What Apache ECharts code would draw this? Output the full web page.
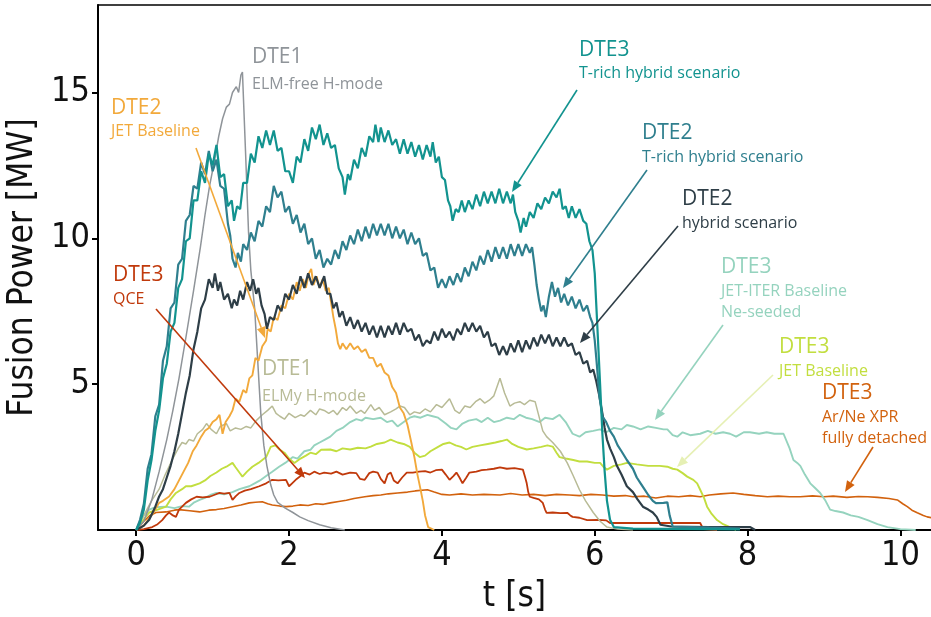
<!DOCTYPE html>
<html><head><meta charset="utf-8">
<script src="https://cdn.jsdelivr.net/npm/echarts@6/dist/echarts.min.js"></script>
<style>html,body{margin:0;padding:0;background:#fff}#c{width:931px;height:617px}</style>
</head><body><div id="c"></div>
<script>
// ---- data: [t (s), fusion power (MW)] ----
const xTicks = [0, 2, 4, 6, 8, 10];
const yTicks = [5, 10, 15];

const dte1ElmFree = [[0,0],[0.1,0.3],[0.2,1.0],[0.3,2.0],[0.4,3.1],[0.48,4.1],[0.56,5.2],[0.65,6.6],[0.75,8.2],[0.84,9.7],[0.9,10.8],[0.96,11.8],[1.02,12.6],[1.08,13.5],[1.13,14.1],[1.18,14.5],[1.22,14.6],[1.26,15.0],[1.31,15.2],[1.34,15.0],[1.37,15.6],[1.39,15.7],[1.43,13.0],[1.47,10.2],[1.5,8.9],[1.55,7.6],[1.59,5.8],[1.63,4.0],[1.67,2.9],[1.71,2.2],[1.76,1.55],[1.8,1.2],[1.85,0.95],[1.95,0.75],[2.05,0.6],[2.14,0.45],[2.25,0.32],[2.4,0.18],[2.55,0.08],[2.73,0]];

const dte3TrichHybrid = [[0,0],[0.05,0.25],[0.1,0.7],[0.15,1.7],[0.2,2.4],[0.25,3.4],[0.3,4.1],[0.35,5.2],[0.4,5.7],[0.45,6.8],[0.5,7.1],[0.55,8.3],[0.6,8.6],[0.65,9.9],[0.7,10.0],[0.75,11.3],[0.8,11.3],[0.85,12.3],[0.9,11.9],[0.95,12.9],[1.0,12.5],[1.05,13.2],[1.1,12.1],[1.15,12.2],[1.2,11.1],[1.25,11.3],[1.28,10.6],[1.32,11.1],[1.36,11.0],[1.4,11.9],[1.45,11.9],[1.5,12.9],[1.55,12.6],[1.6,13.5],[1.65,13.1],[1.7,13.7],[1.75,13.2],[1.8,13.7],[1.85,13.0],[1.9,13.1],[1.95,12.3],[2.0,12.3],[2.05,11.9],[2.1,12.8],[2.15,12.6],[2.2,13.4],[2.25,13.0],[2.3,13.8],[2.35,13.4],[2.4,13.9],[2.45,13.2],[2.5,13.6],[2.55,13.1],[2.6,13.2],[2.65,12.4],[2.7,12.1],[2.73,11.5],[2.77,12.2],[2.8,12.0],[2.85,12.7],[2.9,12.4],[2.95,13.1],[3.0,12.8],[3.05,13.5],[3.1,13.3],[3.13,13.9],[3.17,13.3],[3.2,13.8],[3.25,13.3],[3.3,13.7],[3.35,13.2],[3.4,13.4],[3.45,12.9],[3.5,13.4],[3.55,12.9],[3.6,13.3],[3.65,12.8],[3.7,13.2],[3.75,12.7],[3.8,13.2],[3.85,12.8],[3.88,13.3],[3.92,12.6],[3.96,12.8],[4.0,12.1],[4.04,12.0],[4.08,11.3],[4.11,11.1],[4.14,10.6],[4.18,11.0],[4.22,10.9],[4.26,11.3],[4.3,10.9],[4.35,11.3],[4.4,11.0],[4.45,11.5],[4.5,11.1],[4.55,11.6],[4.6,11.2],[4.65,11.6],[4.7,11.2],[4.75,11.7],[4.8,11.2],[4.85,11.6],[4.9,11.2],[4.93,11.5],[4.96,10.9],[5.0,10.6],[5.03,10.2],[5.07,10.7],[5.1,10.4],[5.15,10.9],[5.2,10.7],[5.25,11.2],[5.3,11.0],[5.35,11.4],[5.4,11.2],[5.45,11.6],[5.5,11.4],[5.54,11.7],[5.58,11.0],[5.62,11.1],[5.66,10.7],[5.7,11.1],[5.75,10.7],[5.8,11.0],[5.85,10.6],[5.89,10.5],[5.93,9.9],[5.97,9.6],[6.0,8.8],[6.03,7.2],[6.07,5.0],[6.1,3.3],[6.13,2.0],[6.16,1.0],[6.2,0.35],[6.25,0.1],[6.5,0.05],[7.0,0.04],[7.9,0.02]];

const dte2TrichHybrid = [[0,0],[0.05,0.35],[0.1,0.9],[0.15,2.1],[0.2,2.6],[0.25,3.9],[0.3,4.3],[0.35,5.8],[0.4,6.3],[0.45,7.6],[0.5,7.8],[0.55,9.1],[0.6,9.3],[0.65,10.6],[0.7,10.8],[0.75,11.8],[0.8,11.7],[0.85,12.6],[0.9,12.2],[0.95,13.0],[1.0,12.3],[1.05,12.7],[1.1,11.8],[1.15,11.7],[1.2,10.5],[1.23,10.1],[1.26,9.3],[1.3,9.0],[1.33,9.5],[1.37,9.2],[1.4,9.8],[1.45,9.6],[1.5,10.2],[1.55,9.9],[1.6,10.6],[1.65,10.4],[1.7,11.1],[1.75,10.9],[1.8,11.8],[1.85,11.4],[1.9,11.6],[1.95,10.9],[2.0,11.1],[2.05,10.5],[2.1,10.8],[2.15,10.2],[2.2,10.5],[2.25,9.8],[2.3,10.0],[2.35,9.3],[2.4,9.6],[2.45,9.0],[2.5,9.3],[2.55,9.1],[2.6,9.6],[2.65,9.3],[2.7,9.9],[2.75,9.6],[2.8,10.1],[2.85,9.8],[2.9,10.3],[2.95,9.9],[3.0,10.4],[3.05,10.0],[3.1,10.5],[3.15,10.1],[3.2,10.5],[3.25,10.1],[3.3,10.5],[3.35,10.0],[3.4,10.4],[3.45,10.0],[3.5,10.3],[3.55,9.8],[3.6,10.2],[3.65,9.8],[3.7,10.0],[3.75,9.4],[3.8,9.5],[3.85,8.9],[3.9,9.0],[3.95,8.3],[4.0,8.6],[4.05,8.3],[4.1,8.7],[4.15,8.4],[4.2,8.8],[4.25,8.5],[4.3,9.0],[4.35,8.7],[4.4,9.2],[4.45,8.9],[4.5,9.4],[4.55,9.1],[4.6,9.6],[4.65,9.2],[4.7,9.7],[4.75,9.3],[4.8,9.7],[4.85,9.3],[4.9,9.8],[4.95,9.4],[5.0,9.8],[5.05,9.4],[5.1,9.8],[5.15,9.5],[5.18,9.7],[5.21,9.1],[5.24,8.4],[5.27,7.9],[5.3,7.5],[5.33,7.7],[5.36,7.3],[5.4,8.0],[5.44,8.5],[5.48,8.0],[5.52,8.3],[5.56,7.8],[5.6,8.1],[5.65,7.7],[5.7,8.0],[5.75,7.6],[5.8,7.9],[5.85,7.5],[5.9,7.7],[5.94,7.3],[5.97,7.1],[6.0,6.5],[6.03,5.6],[6.06,4.6],[6.1,3.9],[6.15,3.7],[6.2,3.4],[6.25,3.2],[6.3,2.9],[6.35,2.7],[6.42,2.4],[6.5,2.1],[6.55,1.8],[6.6,1.6],[6.65,1.4],[6.7,1.2],[6.76,1.0],[6.8,0.92],[6.9,0.93],[6.95,0.95],[6.98,0.5],[7.02,0.12],[7.5,0.08],[7.9,0.05]];

const dte2Hybrid = [[0,0],[0.1,0.15],[0.17,0.35],[0.25,0.8],[0.3,1.15],[0.35,1.4],[0.4,1.8],[0.45,2.2],[0.5,2.7],[0.55,3.3],[0.6,4.0],[0.65,4.7],[0.7,5.3],[0.75,6.2],[0.8,6.8],[0.85,7.6],[0.9,7.9],[0.95,8.6],[1.0,8.3],[1.03,8.8],[1.07,8.2],[1.1,8.5],[1.15,7.9],[1.2,8.1],[1.25,7.6],[1.28,7.9],[1.32,7.7],[1.36,8.2],[1.4,7.9],[1.45,8.5],[1.49,8.2],[1.53,8.6],[1.57,8.1],[1.6,8.3],[1.64,7.7],[1.68,7.4],[1.71,6.9],[1.75,7.3],[1.8,7.2],[1.85,7.7],[1.9,7.5],[1.95,8.1],[2.0,7.9],[2.05,8.4],[2.1,8.1],[2.15,8.7],[2.2,8.3],[2.25,8.8],[2.3,8.4],[2.35,8.7],[2.4,8.3],[2.46,8.7],[2.5,8.1],[2.54,8.1],[2.58,7.6],[2.62,7.8],[2.66,7.3],[2.7,7.5],[2.75,7.0],[2.8,7.3],[2.85,6.9],[2.9,7.2],[2.95,6.8],[3.0,7.1],[3.05,6.7],[3.1,7.0],[3.15,6.6],[3.2,7.0],[3.25,6.6],[3.3,7.0],[3.35,6.7],[3.4,7.1],[3.45,6.7],[3.5,7.1],[3.55,6.8],[3.6,6.9],[3.65,6.5],[3.7,6.7],[3.75,6.3],[3.8,6.5],[3.85,6.4],[3.9,6.8],[3.95,6.5],[4.0,6.9],[4.05,6.6],[4.1,6.8],[4.15,6.5],[4.2,6.9],[4.25,6.7],[4.3,7.1],[4.35,6.8],[4.4,7.1],[4.45,6.8],[4.5,7.0],[4.55,6.6],[4.6,6.8],[4.65,6.3],[4.7,6.4],[4.75,6.0],[4.8,6.3],[4.85,6.0],[4.9,6.4],[4.95,6.1],[5.0,6.5],[5.05,6.1],[5.1,6.5],[5.15,6.2],[5.2,6.6],[5.25,6.3],[5.3,6.7],[5.35,6.4],[5.4,6.7],[5.45,6.3],[5.5,6.6],[5.55,6.3],[5.6,6.6],[5.65,6.3],[5.7,6.4],[5.75,6.0],[5.8,6.1],[5.85,5.7],[5.9,5.8],[5.94,5.4],[5.98,5.5],[6.02,5.1],[6.06,4.6],[6.1,4.0],[6.13,3.5],[6.16,3.1],[6.2,2.8],[6.25,2.5],[6.29,2.2],[6.35,1.9],[6.42,1.5],[6.5,1.3],[6.56,1.05],[6.63,0.8],[6.7,0.7],[6.76,0.6],[6.81,0.45],[6.86,0.18],[7.0,0.12],[7.5,0.1],[8.03,0.1],[8.1,0]];

const dte2JetBaseline = [[0,0],[0.1,0.15],[0.2,0.5],[0.3,0.93],[0.35,1.0],[0.43,1.15],[0.5,1.4],[0.56,1.7],[0.62,2.0],[0.68,2.3],[0.74,2.7],[0.79,2.9],[0.85,3.2],[0.9,3.4],[0.95,3.5],[1.0,3.7],[1.05,3.8],[1.09,3.95],[1.13,3.3],[1.17,3.7],[1.22,3.9],[1.26,4.1],[1.3,4.5],[1.35,4.4],[1.4,4.8],[1.44,4.7],[1.48,5.2],[1.52,5.3],[1.56,5.9],[1.6,5.8],[1.65,6.3],[1.7,6.5],[1.72,6.9],[1.76,6.8],[1.8,7.3],[1.85,7.2],[1.9,7.7],[1.95,7.6],[2.0,8.1],[2.05,7.9],[2.1,8.5],[2.14,8.2],[2.18,8.6],[2.22,8.3],[2.26,8.8],[2.29,8.95],[2.32,8.4],[2.36,8.7],[2.4,8.3],[2.44,8.6],[2.48,8.2],[2.52,8.3],[2.55,7.8],[2.58,7.3],[2.61,6.9],[2.64,6.4],[2.67,6.2],[2.7,6.4],[2.75,6.2],[2.8,6.4],[2.85,6.2],[2.9,6.3],[2.95,6.1],[3.0,6.2],[3.05,5.9],[3.1,5.9],[3.15,5.6],[3.2,5.7],[3.25,5.4],[3.3,5.3],[3.35,4.9],[3.4,4.7],[3.45,4.2],[3.5,4.0],[3.55,3.6],[3.6,3.0],[3.64,2.5],[3.68,1.9],[3.72,1.4],[3.75,1.0],[3.78,0.5],[3.82,0.1],[3.9,0]];

const dte1ElmyHmode = [[0,0],[0.1,0.5],[0.2,1.0],[0.3,1.4],[0.38,1.9],[0.47,2.4],[0.55,2.8],[0.6,3.0],[0.65,2.95],[0.69,3.1],[0.75,3.05],[0.8,3.3],[0.87,3.45],[0.92,3.65],[0.98,3.45],[1.05,3.3],[1.1,3.55],[1.18,3.65],[1.23,3.4],[1.3,3.5],[1.37,3.45],[1.44,3.55],[1.5,3.5],[1.57,3.75],[1.65,3.95],[1.72,4.1],[1.78,4.25],[1.83,4.0],[1.88,3.9],[1.94,3.8],[2.0,4.0],[2.08,3.85],[2.15,3.95],[2.2,3.9],[2.28,4.1],[2.35,3.95],[2.4,4.15],[2.46,4.1],[2.52,4.0],[2.58,4.1],[2.63,3.95],[2.7,4.2],[2.75,4.1],[2.8,4.25],[2.88,4.0],[2.94,4.1],[2.99,4.0],[3.07,4.3],[3.12,4.1],[3.18,4.2],[3.25,3.95],[3.33,4.05],[3.4,4.15],[3.45,4.25],[3.51,4.2],[3.58,3.95],[3.64,4.05],[3.71,4.0],[3.78,4.15],[3.85,4.05],[3.93,4.3],[4.0,4.2],[4.1,4.5],[4.17,4.1],[4.23,4.0],[4.3,4.25],[4.37,4.2],[4.44,4.4],[4.5,4.5],[4.56,4.35],[4.62,4.45],[4.68,4.6],[4.76,5.2],[4.82,4.7],[4.89,4.25],[4.95,4.35],[5.02,4.4],[5.08,4.3],[5.15,4.45],[5.22,4.4],[5.26,4.0],[5.32,3.4],[5.37,3.2],[5.45,3.0],[5.55,2.7],[5.64,2.3],[5.72,1.85],[5.8,1.38],[5.88,1.0],[5.98,0.6],[6.07,0.3],[6.16,0.1],[6.3,0.03],[6.5,0]];

const dte3JetIterNe = [[0,0],[0.05,0.3],[0.1,0.5],[0.17,0.7],[0.25,0.78],[0.39,0.8],[0.5,0.75],[0.6,0.82],[0.69,0.8],[0.76,0.95],[0.83,1.03],[0.9,1.1],[0.97,1.2],[1.05,1.27],[1.15,1.22],[1.26,1.3],[1.35,1.4],[1.48,1.5],[1.55,1.6],[1.62,1.7],[1.7,1.85],[1.78,2.0],[1.87,2.17],[1.95,2.3],[2.05,2.5],[2.11,2.45],[2.2,2.7],[2.28,2.75],[2.33,2.9],[2.4,3.0],[2.47,3.1],[2.54,3.2],[2.62,3.4],[2.7,3.5],[2.8,3.7],[2.88,3.8],[2.95,3.75],[3.0,3.85],[3.1,3.8],[3.2,3.85],[3.28,3.7],[3.35,3.75],[3.42,3.55],[3.5,3.7],[3.58,3.85],[3.64,3.9],[3.72,3.85],[3.81,3.95],[3.88,3.9],[3.95,3.85],[4.05,3.65],[4.12,3.5],[4.19,3.45],[4.27,3.65],[4.35,3.75],[4.45,3.8],[4.52,3.7],[4.6,3.85],[4.68,3.7],[4.76,3.75],[4.85,3.85],[4.94,3.8],[5.02,3.95],[5.1,3.85],[5.18,3.8],[5.28,3.7],[5.35,3.85],[5.45,3.8],[5.54,3.95],[5.62,3.7],[5.71,3.3],[5.8,3.2],[5.88,3.35],[5.98,3.4],[6.07,3.45],[6.15,3.35],[6.25,3.5],[6.35,3.45],[6.42,3.6],[6.5,3.55],[6.6,3.45],[6.7,3.55],[6.8,3.5],[6.9,3.45],[6.95,3.45],[7.02,3.25],[7.08,3.2],[7.15,3.35],[7.25,3.25],[7.38,3.3],[7.48,3.4],[7.58,3.3],[7.68,3.35],[7.77,3.3],[7.85,3.2],[7.95,3.35],[8.03,3.35],[8.15,3.3],[8.25,3.35],[8.35,3.3],[8.47,3.3],[8.55,2.8],[8.6,2.4],[8.65,2.3],[8.69,2.2],[8.75,1.9],[8.82,1.6],[8.88,1.45],[8.95,1.27],[9.02,1.0],[9.08,0.7],[9.15,0.65],[9.25,0.6],[9.35,0.5],[9.45,0.45],[9.57,0.34],[9.7,0.2],[9.83,0.1],[10.0,0.03],[10.2,0]];

const dte3JetBaseline = [[0,0],[0.08,0.3],[0.17,0.6],[0.28,0.7],[0.39,0.8],[0.45,1.05],[0.52,1.27],[0.6,1.4],[0.65,1.5],[0.72,1.5],[0.83,1.6],[0.9,1.7],[0.97,1.85],[1.05,1.97],[1.12,2.1],[1.18,2.17],[1.26,2.3],[1.3,2.15],[1.35,1.97],[1.39,1.83],[1.45,2.0],[1.52,2.17],[1.6,2.3],[1.7,2.5],[1.76,2.85],[1.82,2.9],[1.88,2.75],[1.94,2.65],[2.0,2.45],[2.07,2.3],[2.15,2.45],[2.22,2.55],[2.28,2.65],[2.35,2.6],[2.42,2.75],[2.54,2.76],[2.62,2.7],[2.7,2.8],[2.8,2.76],[2.9,2.82],[3.0,2.8],[3.07,2.86],[3.15,2.95],[3.25,3.0],[3.33,3.1],[3.42,3.0],[3.5,2.95],[3.58,2.85],[3.64,2.65],[3.71,2.5],[3.78,2.55],[3.85,2.7],[3.95,2.85],[4.02,2.95],[4.1,3.0],[4.18,2.9],[4.25,2.85],[4.32,2.76],[4.4,2.85],[4.5,2.9],[4.6,2.95],[4.7,3.0],[4.78,3.05],[4.85,3.1],[4.92,2.95],[5.0,2.85],[5.11,2.76],[5.2,2.8],[5.3,2.85],[5.38,2.9],[5.45,2.86],[5.5,2.65],[5.54,2.5],[5.62,2.45],[5.72,2.4],[5.8,2.35],[5.9,2.35],[6.0,2.3],[6.07,2.3],[6.12,2.15],[6.16,2.07],[6.25,2.2],[6.35,2.25],[6.42,2.3],[6.55,2.25],[6.7,2.2],[6.85,2.2],[6.95,2.17],[7.02,2.1],[7.08,2.07],[7.15,1.95],[7.21,1.83],[7.29,1.72],[7.34,1.6],[7.38,1.38],[7.43,1.1],[7.47,0.8],[7.53,0.55],[7.6,0.34],[7.68,0.2],[7.77,0.1],[7.85,0]];

const dte3Qce = [[0,0],[0.1,0.03],[0.21,0.1],[0.28,0.2],[0.34,0.34],[0.39,0.5],[0.43,0.6],[0.48,0.5],[0.52,0.45],[0.56,0.7],[0.6,0.8],[0.65,0.93],[0.72,1.05],[0.79,1.14],[0.87,1.12],[0.96,1.14],[1.02,1.2],[1.09,1.27],[1.15,1.25],[1.22,1.27],[1.26,1.03],[1.3,1.15],[1.35,1.27],[1.42,1.35],[1.5,1.4],[1.61,1.5],[1.7,1.6],[1.78,1.72],[1.86,1.7],[1.96,1.72],[2.0,1.5],[2.04,1.6],[2.1,1.75],[2.15,1.85],[2.2,1.97],[2.27,1.9],[2.33,2.0],[2.4,1.92],[2.46,1.97],[2.55,1.93],[2.62,2.0],[2.7,1.9],[2.8,1.97],[2.88,1.95],[2.93,1.75],[2.99,1.72],[3.05,1.95],[3.1,2.0],[3.16,1.97],[3.2,1.75],[3.25,1.6],[3.29,1.9],[3.33,1.97],[3.37,1.7],[3.42,1.6],[3.48,1.8],[3.54,1.97],[3.62,1.97],[3.7,2.0],[3.78,2.02],[3.85,1.97],[3.92,2.05],[4.0,2.07],[4.05,1.9],[4.1,1.72],[4.15,1.85],[4.19,1.97],[4.23,1.8],[4.27,1.6],[4.32,1.8],[4.36,1.97],[4.45,2.0],[4.52,2.05],[4.59,2.07],[4.68,2.1],[4.76,2.15],[4.85,2.1],[4.95,2.12],[5.06,2.07],[5.09,1.8],[5.11,1.6],[5.13,1.3],[5.15,1.14],[5.2,1.1],[5.27,1.05],[5.32,0.93],[5.35,0.7],[5.37,0.59],[5.45,0.6],[5.55,0.58],[5.64,0.59],[5.68,0.5],[5.71,0.45],[5.8,0.42],[5.9,0.34],[6.05,0.35],[6.15,0.33],[6.2,0.24],[6.5,0.24],[7.0,0.24],[7.38,0.24],[7.42,0.03],[7.6,0]];

const dte3ArNeXpr = [[0,0],[0.1,0.3],[0.18,0.5],[0.26,0.6],[0.39,0.62],[0.5,0.68],[0.56,0.7],[0.7,0.66],[0.83,0.62],[0.95,0.68],[1.05,0.7],[1.15,0.74],[1.26,0.8],[1.37,0.86],[1.48,0.93],[1.56,0.95],[1.65,0.97],[1.72,0.9],[1.78,0.86],[1.88,0.82],[1.96,0.8],[2.05,0.82],[2.14,0.86],[2.25,0.84],[2.35,0.9],[2.45,0.88],[2.54,0.93],[2.65,0.98],[2.75,1.02],[2.85,1.08],[2.99,1.14],[3.1,1.18],[3.2,1.2],[3.3,1.24],[3.42,1.27],[3.55,1.3],[3.65,1.34],[3.81,1.38],[3.9,1.3],[4.0,1.22],[4.1,1.2],[4.25,1.24],[4.4,1.2],[4.55,1.22],[4.76,1.2],[4.9,1.25],[5.05,1.2],[5.2,1.22],[5.35,1.18],[5.5,1.22],[5.67,1.2],[5.8,1.18],[5.95,1.22],[6.1,1.2],[6.25,1.16],[6.4,1.18],[6.5,1.14],[6.65,1.16],[6.8,1.1],[6.95,1.16],[7.1,1.14],[7.25,1.18],[7.38,1.14],[7.5,1.2],[7.65,1.24],[7.81,1.27],[7.95,1.22],[8.1,1.18],[8.26,1.14],[8.4,1.16],[8.55,1.14],[8.69,1.14],[8.85,1.17],[9.0,1.14],[9.12,1.16],[9.3,1.12],[9.45,1.15],[9.57,1.14],[9.7,1.12],[9.85,1.08],[9.96,1.03],[10.03,0.9],[10.09,0.8],[10.15,0.68],[10.22,0.59],[10.3,0.5],[10.35,0.45],[10.45,0.4]];

// ---- styling ----
const C = {
  gray:'#8f9499', orange:'#f2a93b', qce:'#c0390b', khaki:'#b8bb96',
  teal:'#12938f', steel:'#2f7f8e', slate:'#2e3e47', mint:'#95d3be',
  lime:'#c2de3f', limeArrow:'#e6f0b4', arne:'#d2620e'
};

const seriesDefs = [
  {d:dte3ArNeXpr, c:C.arne, w:1.6},
  {d:dte3JetIterNe, c:C.mint, w:1.9},
  {d:dte3JetBaseline, c:C.lime, w:1.9},
  {d:dte3Qce, c:C.qce, w:1.8},
  {d:dte1ElmyHmode, c:C.khaki, w:1.5},
  {d:dte1ElmFree, c:C.gray, w:1.5},
  {d:dte2JetBaseline, c:C.orange, w:1.9},
  {d:dte2Hybrid, c:C.slate, w:2.2},
  {d:dte2TrichHybrid, c:C.steel, w:2.2},
  {d:dte3TrichHybrid, c:C.teal, w:2.2}
];

const XMIN = -0.5, XMAX = 10.4, YMIN = 0, YMAX = 18;
const tickFont = '"DejaVu Sans Condensed", "DejaVu Sans"';

const chart = echarts.init(document.getElementById('c'), null, {renderer:'canvas'});
chart.setOption({
  animation:false,
  backgroundColor:'#fff',
  grid:{left:98, right:0, top:5, bottom:87, containLabel:false, outerBoundsMode:'none'},
  xAxis:[{
    type:'value', min:XMIN, max:XMAX, position:'bottom',
    splitLine:{show:false},
    axisLine:{show:true, onZero:false, lineStyle:{color:'#000', width:2}},
    axisTick:{show:true, customValues:xTicks, length:6, inside:false, lineStyle:{color:'#000', width:2}},
    axisLabel:{customValues:xTicks, fontSize:34, color:'#111', fontFamily:tickFont, margin:9},
    name:'t [s]', nameLocation:'middle', nameGap:49,
    nameTextStyle:{fontSize:35, color:'#111', fontFamily:tickFont}
  },{
    type:'value', min:XMIN, max:XMAX, position:'top',
    splitLine:{show:false},
    axisLine:{show:true, onZero:false, lineStyle:{color:'#000', width:1.5}},
    axisTick:{show:false}, axisLabel:{show:false}
  }],
  yAxis:{
    type:'value', min:YMIN, max:YMAX,
    splitLine:{show:false},
    axisLine:{show:true, onZero:false, lineStyle:{color:'#000', width:2}},
    axisTick:{show:true, customValues:yTicks, length:6, lineStyle:{color:'#000', width:2}},
    axisLabel:{customValues:yTicks, fontSize:34, color:'#111', fontFamily:tickFont, margin:8},
    name:'Fusion Power [MW]', nameLocation:'middle', nameGap:54,
    nameTextStyle:{fontSize:35, color:'#111', fontFamily:tickFont}
  },
  series: seriesDefs.map(s => ({
    type:'line', data:s.d, xAxisIndex:0, showSymbol:false, symbol:'none',
    lineStyle:{color:s.c, width:s.w}, itemStyle:{color:s.c},
    clip:true, silent:true
  }))
});

// ---- annotations (pixel layout) ----
const annFont = 'Open Sans';
const T = 21, S = 16;
const labels = [
  {c:C.gray,   x:252, lines:[['DTE1',57,T],['ELM-free H-mode',84,S]]},
  {c:C.orange, x:111, lines:[['DTE2',108,T],['JET Baseline',131,S]]},
  {c:C.qce,    x:113, lines:[['DTE3',275,T],['QCE',299,S]]},
  {c:C.khaki,  x:262, lines:[['DTE1',369,T],['ELMy H-mode',396,S]]},
  {c:C.teal,   x:579, lines:[['DTE3',50,T],['T-rich hybrid scenario',73,S]]},
  {c:C.steel,  x:642, lines:[['DTE2',133,T],['T-rich hybrid scenario',157,S]]},
  {c:C.slate,  x:682, lines:[['DTE2',199,T],['hybrid scenario',223,S]]},
  {c:C.mint,   x:721, lines:[['DTE3',267,T],['JET-ITER Baseline',291,S],['Ne-seeded',312,S]]},
  {c:C.lime,   x:779, lines:[['DTE3',347,T],['JET Baseline',371,S]]},
  {c:C.arne,   x:822, lines:[['DTE3',393,T],['Ar/Ne XPR',417,S],['fully detached',438,S]]}
];
const arrows = [
  {c:C.orange, from:[196,148], to:[265,338]},
  {c:C.qce, from:[156,309], to:[305,478]},
  {c:C.teal, from:[577,90], to:[512,192]},
  {c:C.steel, from:[647,170], to:[563,288]},
  {c:C.slate, from:[678,226], to:[580,343]},
  {c:C.mint, from:[723,325], to:[655,420]},
  {c:C.limeArrow, from:[773,375], to:[677,467]},
  {c:C.arne, from:[873,447], to:[845,492]}
];

const g = [];
labels.forEach(l => {
  l.lines.forEach(([txt, y, fs]) => {
    g.push({type:'text', x:l.x, y:y, silent:true, z:100,
      style:{text:txt, fill:l.c, font:`${fs}px "${annFont}"`, textAlign:'left', textVerticalAlign:'middle'}});
  });
});
arrows.forEach(a => {
  const [x1,y1] = a.from, [x2,y2] = a.to;
  const dx = x2-x1, dy = y2-y1, L = Math.hypot(dx,dy);
  const ux = dx/L, uy = dy/L, px = -uy, py = ux;
  const hl = 11, hw = 4.5;
  const bx = x2-ux*hl, by = y2-uy*hl;
  g.push({type:'line', silent:true, z:99, shape:{x1, y1, x2:bx, y2:by}, style:{stroke:a.c, lineWidth:1.6}});
  g.push({type:'polygon', silent:true, z:99, shape:{points:[[x2,y2],[bx+px*hw,by+py*hw],[bx-px*hw,by-py*hw]]}, style:{fill:a.c}});
});
chart.setOption({graphic:g});
</script>
</body></html>
